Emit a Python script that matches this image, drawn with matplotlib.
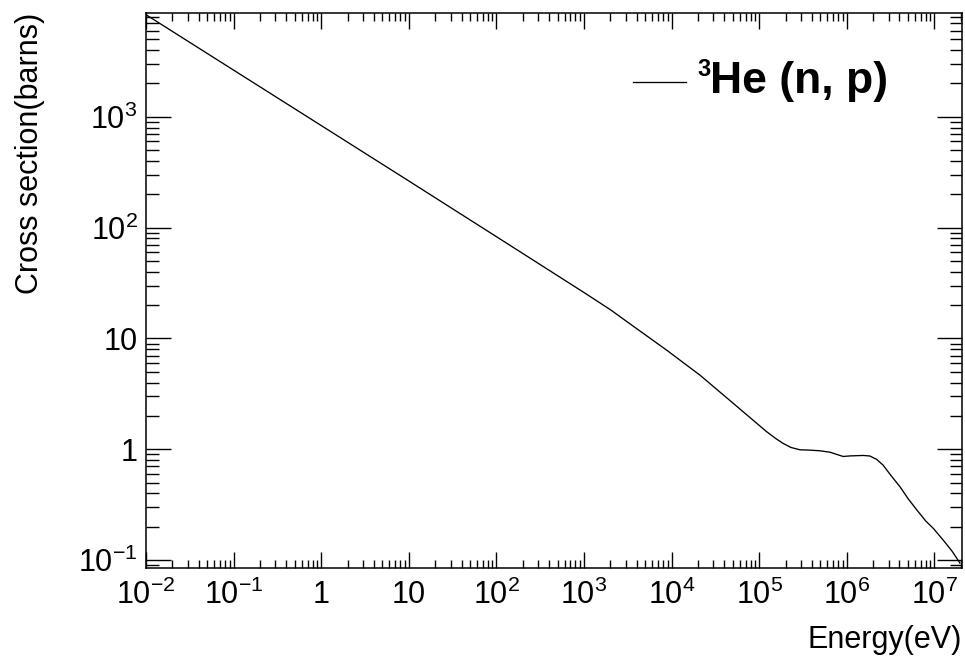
import numpy as np
import matplotlib
matplotlib.use("Agg")
import matplotlib.pyplot as plt
from matplotlib.lines import Line2D
from matplotlib.ticker import FixedLocator, LogLocator, NullFormatter

plt.rcParams['font.family'] = ['Liberation Sans', 'DejaVu Sans']
plt.rcParams['mathtext.fontset'] = 'custom'
plt.rcParams['mathtext.rm'] = 'Liberation Sans'
plt.rcParams['mathtext.it'] = 'Liberation Sans:italic'
plt.rcParams['mathtext.bf'] = 'Liberation Sans:bold'

# 3He(n,p) cross section
energy = [1e-2, 1e-1, 1, 10, 100, 1000, 2000, 3660, 8790, 2.11e4, 5.06e4,
          1.22e5, 1.55e5, 1.88e5, 2.3e5, 2.92e5, 3.6e5, 4.94e5, 6.5e5, 8e5,
          9.1e5, 1.1e6, 1.54e6, 1.84e6, 2.2e6, 2.6e6, 3.2e6, 4.05e6, 5e6,
          6.3e6, 8e6, 9.7e6, 1.26e7, 1.6e7, 1.96e7]
xsec = [8350, 2640, 835, 264, 83, 26.0, 18.2, 12.9, 7.85, 4.67, 2.60,
        1.44, 1.25, 1.13, 1.04, 0.99, 0.985, 0.97, 0.94, 0.89,
        0.862, 0.872, 0.88, 0.87, 0.81, 0.72, 0.58, 0.46, 0.36,
        0.284, 0.225, 0.194, 0.152, 0.12, 0.094]

xticks = [1e-2, 1e-1, 1, 10, 1e2, 1e3, 1e4, 1e5, 1e6, 1e7]
xticklabels = [r'$10^{-2}$', r'$10^{-1}$', '1', '10', r'$10^{2}$', r'$10^{3}$',
               r'$10^{4}$', r'$10^{5}$', r'$10^{6}$', r'$10^{7}$']
yticks = [1e-1, 1, 10, 1e2, 1e3]
yticklabels = [r'$10^{-1}$', '1', '10', r'$10^{2}$', r'$10^{3}$']

fig = plt.figure(figsize=(9.65, 6.64), dpi=100)
ax = fig.add_axes([146/965, 1 - 567.5/664, (962-146)/965, (567.5-13)/664])

line, = ax.plot(energy, xsec, color='black', lw=0.95)

ax.set_xscale('log')
ax.set_yscale('log')
ax.set_xlim(1e-2, 2.07e7)
ax.set_ylim(0.0858, 8650)

ax.xaxis.set_major_locator(FixedLocator(xticks))
ax.set_xticklabels(xticklabels)
ax.yaxis.set_major_locator(FixedLocator(yticks))
ax.set_yticklabels(yticklabels)
ax.xaxis.set_minor_locator(LogLocator(base=10, subs=np.arange(2, 10), numticks=30))
ax.yaxis.set_minor_locator(LogLocator(base=10, subs=np.arange(2, 10), numticks=30))
ax.xaxis.set_minor_formatter(NullFormatter())
ax.yaxis.set_minor_formatter(NullFormatter())

ax.tick_params(axis='both', which='both', direction='in', top=True, right=True,
               labelsize=22, width=1.0, color='black')
ax.tick_params(axis='x', which='major', length=11.5, pad=9)
ax.tick_params(axis='x', which='minor', length=5.8)
ax.tick_params(axis='y', which='major', length=18, pad=6)
ax.tick_params(axis='y', which='minor', length=9)
for s in ax.spines.values():
    s.set_linewidth(1.1)

fig.text(30/965, 1 - 13/664, 'Cross section(barns)', rotation=90,
         ha='center', va='top', fontsize=22)
fig.text(962/965, 1 - 640/664, 'Energy(eV)', ha='right', va='center', fontsize=22)

# legend drawn by hand, ROOT style
fig.add_artist(Line2D([633/965, 686/965], [1 - 82/664, 1 - 82/664],
                      color='black', lw=0.95))
fig.text(697/965, 1 - 58/664, '3', ha='left', va='top', fontsize=17, fontweight='bold')
fig.text(710/965, 1 - 93/664, 'He (n, p)', ha='left', va='baseline',
         fontsize=32, fontweight='bold')

fig.savefig('out.png', dpi=100)
